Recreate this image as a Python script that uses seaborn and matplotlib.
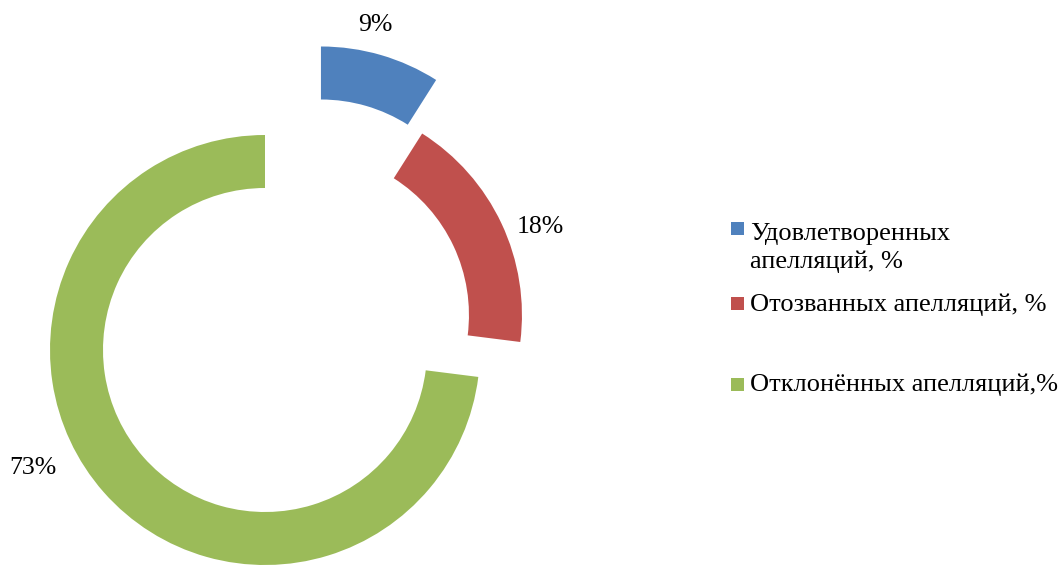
import numpy as np
import matplotlib
matplotlib.use("Agg")
import matplotlib.pyplot as plt
import seaborn as sns
from matplotlib.patches import Rectangle

# данные
categories = ["Удовлетворенных\nапелляций, %", "Отозванных апелляций, %", "Отклонённых апелляций,%"]
shares = [9, 18, 73]
pct_labels = ["9%", "18%", "73%"]
colors = ["#4F81BD", "#C0504D", "#9BBB59"]

sns.set_theme(style="white")
plt.rcParams["font.family"] = ["Liberation Serif", "DejaVu Serif"]

W, H = 1063, 565
fig = plt.figure(figsize=(W / 100, H / 100), dpi=100)

# кольцо: центр и радиус в пикселях
R_PX = 215
CX, CY = 265, 350
AX_W = 660
ax = fig.add_axes([0, 0, AX_W / W, 1])
wedges, _ = ax.pie(shares, colors=colors, startangle=90, counterclock=False,
                   radius=1, wedgeprops=dict(width=0.2465, linewidth=0))
ax.set_xlim(-CX / R_PX, (AX_W - CX) / R_PX)
ax.set_ylim(-(H - CY) / R_PX, CY / R_PX)
ax.axis("off")

# смещение секторов (расстояние в радиусах, направление в градусах)
explode_dist = [0.487, 0.254, 0.0]
explode_dir = [57.7, 39.8, 0.0]
centers = []
for w, d, a in zip(wedges, explode_dist, explode_dir):
    c = (d * np.cos(np.radians(a)), d * np.sin(np.radians(a)))
    w.set_center(c)
    centers.append(c)

# подписи процентов
label_dir = [77, 20.7, 207]
label_dist = [1.13, 1.16, 1.21]
for c, a, d, t in zip(centers, label_dir, label_dist, pct_labels):
    ax.text(c[0] + d * np.cos(np.radians(a)), c[1] + d * np.sin(np.radians(a)), t,
            ha="center", va="center", fontsize=18.5, color="black")

# легенда
marker_y = [228, 303, 384]
text_y = [248, 305, 385]
for lab, col, my, ty in zip(categories, colors, marker_y, text_y):
    fig.add_artist(Rectangle((731 / W, 1 - (my + 6.5) / H), 13 / W, 13 / H,
                             transform=fig.transFigure, color=col, lw=0))
    fig.text(750 / W, 1 - ty / H, lab, ha="left", va="center", fontsize=19,
             linespacing=1.3, color="black")

fig.savefig("out.png", dpi=100)
